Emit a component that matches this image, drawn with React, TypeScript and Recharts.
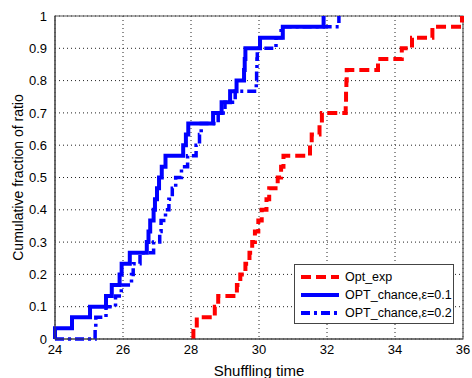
import React from 'react';
import {
  LineChart,
  Line,
  XAxis,
  YAxis,
  CartesianGrid,
  Legend,
  ReferenceArea,
  Label,
} from 'recharts';

// cumulative fraction levels (30 samples per series)
const cdfLevels = [
  0, 0.033, 0.067, 0.1, 0.133, 0.167, 0.2, 0.233, 0.267, 0.3, 0.333, 0.367, 0.4, 0.433, 0.467, 0.5,
  0.533, 0.567, 0.6, 0.633, 0.667, 0.7, 0.733, 0.767, 0.8, 0.833, 0.867, 0.9, 0.933, 0.967, 1,
];

// shuffling times where each step happens
const optExpTimes = [
  28.07, 28.07, 28.17, 28.7, 28.8, 29.35, 29.45, 29.6, 29.72, 29.8, 29.88, 29.98, 30.08, 30.22, 30.3,
  30.55, 30.65, 30.72, 31.5, 31.55, 31.78, 31.85, 32.55, 32.56, 32.57, 32.58, 33.5, 34.2, 34.5, 35.1, 35.97,
];
const chance01Times = [
  24, 24, 24.5, 25.03, 25.5, 25.67, 25.9, 25.96, 26.2, 26.7, 26.75, 26.8, 26.9, 26.94, 27.0, 27.06,
  27.14, 27.25, 27.77, 27.85, 27.92, 28.65, 28.9, 29.15, 29.34, 29.56, 29.58, 29.6, 30.03, 30.7, 31.9,
];
const chance02Times = [
  24, 25.18, 25.2, 25.5, 25.78, 25.95, 26.25, 26.3, 26.5, 26.9, 27.08, 27.12, 27.25, 27.35, 27.45,
  27.55, 27.72, 27.9, 28.15, 28.25, 28.3, 28.8, 29.0, 29.3, 29.92, 29.93, 29.94, 29.95, 30.5, 30.65, 32.35,
];

const xTicks = [24, 26, 28, 30, 32, 34, 36];
const yTicks = [0, 0.1, 0.2, 0.3, 0.4, 0.5, 0.6, 0.7, 0.8, 0.9, 1];

const FONT = '"Liberation Sans", Arial, Helvetica, sans-serif';

const toSeries = (times: number[]) => times.map((x, i) => ({ x, y: cdfLevels[i] }));

const optExpData = toSeries(optExpTimes);
const chance01Data = toSeries(chance01Times);
const chance02Data = toSeries(chance02Times);

const legendItems = [
  { name: 'Opt_exp', color: '#ff0000', dash: '10 5' },
  { name: 'OPT_chance,\u03b5=0.1', color: '#0000ff', dash: undefined },
  { name: 'OPT_chance,\u03b5=0.2', color: '#0000ff', dash: '9 4 3 4' },
];

const LegendBox = () => (
  <div
    style={{
      width: 160,
      height: 60,
      background: '#fff',
      border: '1px solid #444',
      fontFamily: FONT,
      fontSize: 12.5,
      color: '#000',
      paddingTop: 2.5,
      boxSizing: 'border-box',
    }}
  >
    {legendItems.map((item) => (
      <div key={item.name} style={{ display: 'flex', alignItems: 'center', height: 18.3 }}>
        <svg width={44} height={10} style={{ marginLeft: 6 }}>
          <line x1={0} y1={5} x2={38} y2={5} stroke={item.color} strokeWidth={4} strokeDasharray={item.dash} />
        </svg>
        <span style={{ whiteSpace: 'nowrap' }}>{item.name}</span>
      </div>
    ))}
  </div>
);

const App: React.FC = () => {
  return (
    <div style={{ position: 'absolute', left: 0, top: 0, background: '#fff' }}>
      <LineChart width={472} height={378} margin={{ top: 16, right: 9, bottom: 4, left: 5 }}>
        <CartesianGrid stroke="#222" strokeDasharray="1 3" />
        <XAxis
          type="number"
          dataKey="x"
          domain={[24, 36]}
          ticks={xTicks}
          allowDuplicatedCategory={false}
          height={35}
          tickLine={false}
          tickSize={4}
          axisLine={{ stroke: '#444' }}
          tick={{ fill: '#000', fontSize: 13, fontFamily: FONT }}
        >
          <Label
            value="Shuffling time"
            position="insideBottom"
            offset={-2}
            style={{ fontSize: 15, fontFamily: FONT, fill: '#000' }}
          />
        </XAxis>
        <YAxis
          type="number"
          domain={[0, 1]}
          ticks={yTicks}
          width={50}
          tickLine={false}
          axisLine={{ stroke: '#444' }}
          tick={{ fill: '#000', fontSize: 13, fontFamily: FONT }}
        >
          <Label
            value="Cumulative fraction of ratio"
            angle={-90}
            position="insideLeft"
            offset={13}
            style={{ textAnchor: 'middle', fontSize: 14, fontFamily: FONT, fill: '#000' }}
          />
        </YAxis>
        <ReferenceArea x1={24} x2={36} y1={0} y2={1} fill="none" stroke="#555" strokeWidth={1.2} />
        <Line
          data={chance02Data}
          dataKey="y"
          type="stepAfter"
          stroke="#0000ff"
          strokeWidth={3.5}
          strokeDasharray="9 4 3 4"
          dot={false}
          activeDot={false}
          isAnimationActive={false}
        />
        <Line
          data={chance01Data}
          dataKey="y"
          type="stepAfter"
          stroke="#0000ff"
          strokeWidth={4}
          dot={false}
          activeDot={false}
          isAnimationActive={false}
        />
        <Line
          data={optExpData}
          dataKey="y"
          type="stepAfter"
          stroke="#ff0000"
          strokeWidth={4}
          strokeDasharray="10 5"
          dot={false}
          activeDot={false}
          isAnimationActive={false}
        />
        <Legend
          layout="horizontal"
          verticalAlign="middle"
          align="center"
          content={() => <LegendBox />}
          wrapperStyle={{ left: 294, top: 264, width: 160, height: 60 }}
        />
      </LineChart>
    </div>
  );
};

export default App;
